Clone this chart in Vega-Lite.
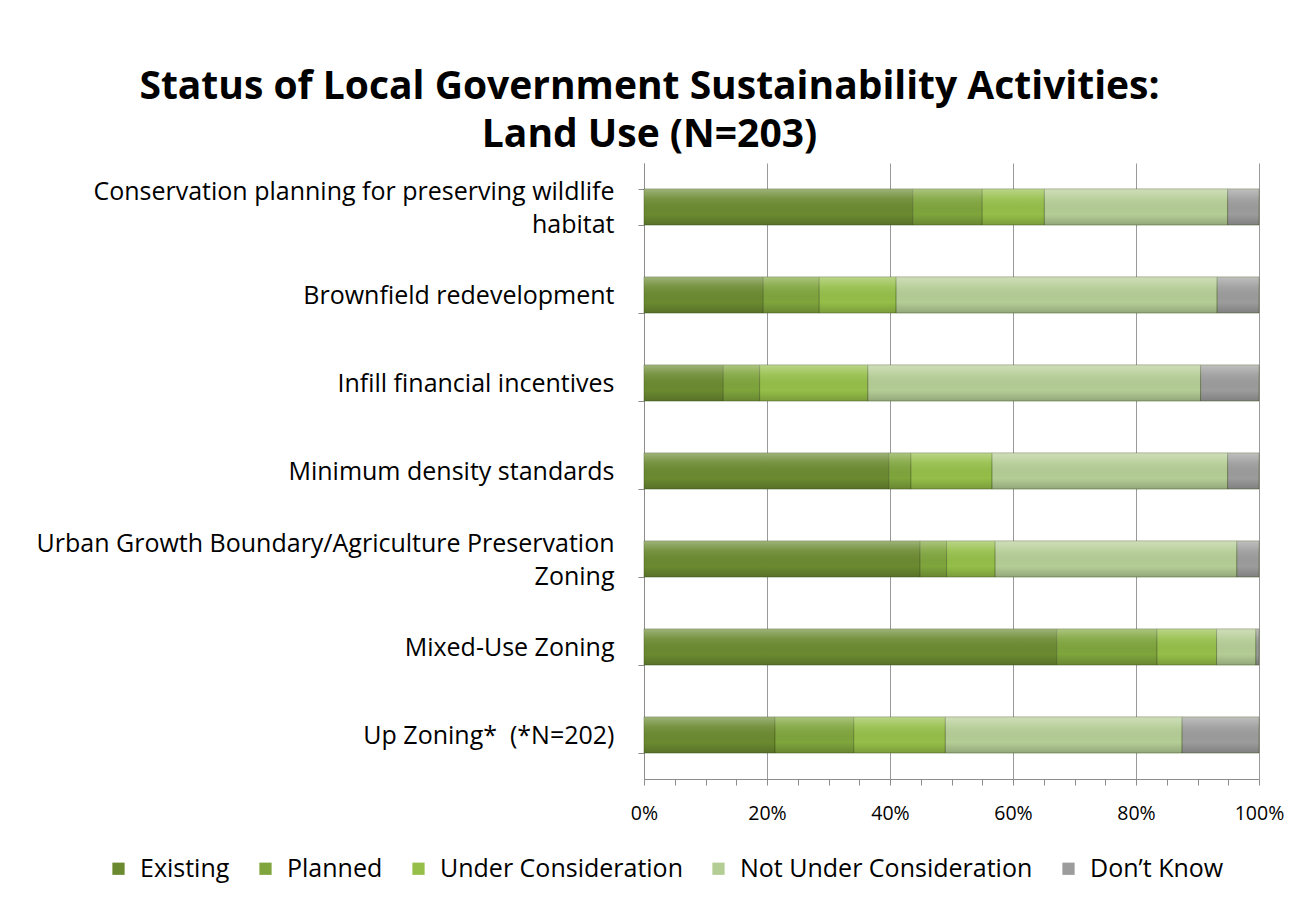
{
  "$schema": "https://vega.github.io/schema/vega-lite/v6.json",
  "autosize": {"type": "none"},
  "width": 615,
  "height": 616,
  "padding": {"left": 644, "top": 163, "right": 37, "bottom": 123},
  "background": "white",
  "title": {
    "text": ["Status of Local Government Sustainability Activities:", "Land Use (N=203)"],
    "font": "Open Sans",
    "fontSize": 39,
    "fontWeight": "bold",
    "color": "#000000",
    "anchor": "middle",
    "dx": -302,
    "dy": 12,
    "offset": 8,
    "lineHeight": 48
  },
  "config": {
    "view": {"stroke": null},
    "font": "Open Sans"
  },
  "data": {
    "values": [
      {"item": "Conservation planning for preserving wildlife|habitat", "status": "Existing", "pct": 43.7, "ord": 1},
      {"item": "Conservation planning for preserving wildlife|habitat", "status": "Planned", "pct": 11.3, "ord": 2},
      {"item": "Conservation planning for preserving wildlife|habitat", "status": "Under Consideration", "pct": 10.1, "ord": 3},
      {"item": "Conservation planning for preserving wildlife|habitat", "status": "Not Under Consideration", "pct": 29.8, "ord": 4},
      {"item": "Conservation planning for preserving wildlife|habitat", "status": "Don’t Know", "pct": 5.1, "ord": 5},
      {"item": "Brownfield redevelopment", "status": "Existing", "pct": 19.4, "ord": 1},
      {"item": "Brownfield redevelopment", "status": "Planned", "pct": 9.1, "ord": 2},
      {"item": "Brownfield redevelopment", "status": "Under Consideration", "pct": 12.5, "ord": 3},
      {"item": "Brownfield redevelopment", "status": "Not Under Consideration", "pct": 52.2, "ord": 4},
      {"item": "Brownfield redevelopment", "status": "Don’t Know", "pct": 6.8, "ord": 5},
      {"item": "Infill financial incentives", "status": "Existing", "pct": 12.9, "ord": 1},
      {"item": "Infill financial incentives", "status": "Planned", "pct": 5.9, "ord": 2},
      {"item": "Infill financial incentives", "status": "Under Consideration", "pct": 17.6, "ord": 3},
      {"item": "Infill financial incentives", "status": "Not Under Consideration", "pct": 54.1, "ord": 4},
      {"item": "Infill financial incentives", "status": "Don’t Know", "pct": 9.5, "ord": 5},
      {"item": "Minimum density standards", "status": "Existing", "pct": 39.8, "ord": 1},
      {"item": "Minimum density standards", "status": "Planned", "pct": 3.6, "ord": 2},
      {"item": "Minimum density standards", "status": "Under Consideration", "pct": 13.2, "ord": 3},
      {"item": "Minimum density standards", "status": "Not Under Consideration", "pct": 38.3, "ord": 4},
      {"item": "Minimum density standards", "status": "Don’t Know", "pct": 5.1, "ord": 5},
      {"item": "Urban Growth Boundary/Agriculture Preservation|Zoning", "status": "Existing", "pct": 44.9, "ord": 1},
      {"item": "Urban Growth Boundary/Agriculture Preservation|Zoning", "status": "Planned", "pct": 4.3, "ord": 2},
      {"item": "Urban Growth Boundary/Agriculture Preservation|Zoning", "status": "Under Consideration", "pct": 7.9, "ord": 3},
      {"item": "Urban Growth Boundary/Agriculture Preservation|Zoning", "status": "Not Under Consideration", "pct": 39.3, "ord": 4},
      {"item": "Urban Growth Boundary/Agriculture Preservation|Zoning", "status": "Don’t Know", "pct": 3.6, "ord": 5},
      {"item": "Mixed-Use Zoning", "status": "Existing", "pct": 67.1, "ord": 1},
      {"item": "Mixed-Use Zoning", "status": "Planned", "pct": 16.3, "ord": 2},
      {"item": "Mixed-Use Zoning", "status": "Under Consideration", "pct": 9.7, "ord": 3},
      {"item": "Mixed-Use Zoning", "status": "Not Under Consideration", "pct": 6.4, "ord": 4},
      {"item": "Mixed-Use Zoning", "status": "Don’t Know", "pct": 0.5, "ord": 5},
      {"item": "Up Zoning*\u00a0 (*N=202)", "status": "Existing", "pct": 21.3, "ord": 1},
      {"item": "Up Zoning*\u00a0 (*N=202)", "status": "Planned", "pct": 12.8, "ord": 2},
      {"item": "Up Zoning*\u00a0 (*N=202)", "status": "Under Consideration", "pct": 14.9, "ord": 3},
      {"item": "Up Zoning*\u00a0 (*N=202)", "status": "Not Under Consideration", "pct": 38.5, "ord": 4},
      {"item": "Up Zoning*\u00a0 (*N=202)", "status": "Don’t Know", "pct": 12.5, "ord": 5}
    ]
  },
  "encoding": {
    "y": {
      "field": "item",
      "type": "nominal",
      "sort": [
        "Conservation planning for preserving wildlife|habitat",
        "Brownfield redevelopment",
        "Infill financial incentives",
        "Minimum density standards",
        "Urban Growth Boundary/Agriculture Preservation|Zoning",
        "Mixed-Use Zoning",
        "Up Zoning*\u00a0 (*N=202)"
      ],
      "scale": {"paddingInner": 0.59, "paddingOuter": 0.295},
      "axis": {
        "title": null,
        "labelExpr": "split(datum.label, '|')",
        "labelFont": "Open Sans",
        "labelFontSize": 25,
        "labelColor": "#000000",
        "labelLineHeight": 33,
        "labelPadding": 24,
        "labelLimit": 700,
        "labelOffset": {"condition": {"test": "indexof(datum.label, '|') >= 0", "value": -16}, "value": 0},
        "tickBand": "extent",
        "tickSize": 6,
        "tickColor": "#8c8c8c",
        "domainColor": "#8c8c8c",
        "grid": false
      }
    },
    "x": {
      "field": "pct",
      "type": "quantitative",
      "stack": "zero",
      "scale": {"domain": [0, 100], "nice": false},
      "axis": {
        "title": null,
        "values": [0, 5, 10, 15, 20, 25, 30, 35, 40, 45, 50, 55, 60, 65, 70, 75, 80, 85, 90, 95, 100],
        "labelExpr": "datum.value % 20 == 0 ? datum.value + '%' : ''",
        "labelFont": "Open Sans",
        "labelFontSize": 19.5,
        "labelColor": "#000000",
        "labelPadding": 19,
        "labelFlush": false,
        "tickSize": 6,
        "tickColor": "#8c8c8c",
        "domainColor": "#8c8c8c",
        "grid": true,
        "gridColor": "#9a9a9a",
        "gridOpacity": {"condition": {"test": "datum.value % 20 == 0", "value": 1}, "value": 0}
      }
    },
    "order": {"field": "ord", "type": "quantitative"}
  },
  "layer": [
    {
      "mark": {"type": "bar", "stroke": "#3f5418", "strokeOpacity": 0.45, "strokeWidth": 1},
      "encoding": {
        "color": {
          "field": "status",
          "type": "nominal",
          "sort": ["Existing", "Planned", "Under Consideration", "Not Under Consideration", "Don’t Know"],
          "scale": {
            "domain": ["Existing", "Planned", "Under Consideration", "Not Under Consideration", "Don’t Know"],
            "range": ["#6b8a30", "#7fa53c", "#95bf48", "#b4cd95", "#9c9c9c"]
          },
          "legend": {
            "title": null,
            "orient": "none",
            "legendX": -538,
            "legendY": 693,
            "direction": "horizontal",
            "columns": 5,
            "columnPadding": 23,
            "symbolType": "square",
            "symbolSize": 150,
            "symbolStrokeWidth": 0,
            "labelOffset": 9,
            "labelFont": "Open Sans",
            "labelFontSize": 25,
            "labelColor": "#000000",
            "labelLimit": 400
          }
        }
      }
    },
    {
      "mark": {
        "type": "bar",
        "fill": {
          "gradient": "linear",
          "x1": 0, "y1": 0, "x2": 0, "y2": 1,
          "stops": [
            {"offset": 0, "color": "rgba(255,255,255,0.35)"},
            {"offset": 0.25, "color": "rgba(255,255,255,0.1)"},
            {"offset": 0.7, "color": "rgba(0,0,0,0)"},
            {"offset": 1, "color": "rgba(0,0,0,0.18)"}
          ]
        }
      }
    }
  ]
}
